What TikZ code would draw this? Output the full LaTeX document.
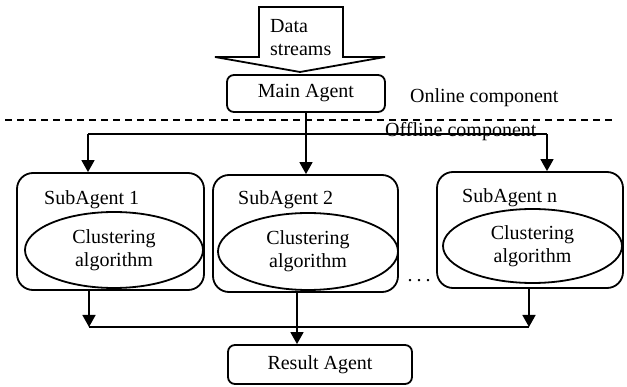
\documentclass[tikz,border=0pt]{standalone}
\usepackage{fontspec}
\setmainfont{Liberation Serif}
\usetikzlibrary{arrows.meta,shapes.geometric}
\begin{document}
\begin{tikzpicture}[x=1pt,y=-1pt,
  every node/.style={font=\fontsize{20}{23}\selectfont, inner sep=0pt},
  agentbox/.style={draw, line width=1.8pt, rounded corners=7pt},
  subbox/.style={draw, line width=1.8pt, rounded corners=16pt},
  algo/.style={draw, ellipse, line width=1.8pt, align=center},
  conn/.style={line width=1.6pt},
  arr/.style={line width=1.6pt, -{Triangle[width=13pt,length=12pt]}},
  lbl/.style={anchor=west}
]
\useasboundingbox (0,0) rectangle (627,387);
% big input arrow
\draw[line width=1.8pt, fill=white] (259,7) -- (343,7) -- (343,57) -- (385,57) -- (300,72) -- (215,57) -- (259,57) -- cycle;
\node[lbl, align=left] (data) at (270,38) {Data\\ streams};
% main agent
\node[agentbox, minimum width=158pt, minimum height=37pt] (main) at (306,93.5) {Main Agent\hspace{14pt}};
\node[lbl] (online) at (410,98) {Online component};
% dashed separator
\coordinate (d1) at (5,120);
\coordinate (d2) at (612,120);
\draw[line width=1.3pt, dash pattern=on 7pt off 5pt] (d1) -- (d2);
% subagents
\node[subbox, minimum width=187pt, minimum height=117pt] (sub1) at (110.5,231.5) {};
\node[subbox, minimum width=185pt, minimum height=117pt] (sub2) at (305.5,233.5) {};
\node[subbox, minimum width=186pt, minimum height=116pt] (subn) at (530,230) {};
\node[lbl] (s1lbl) at (44,200) {SubAgent 1};
\node[lbl] (s2lbl) at (238,200) {SubAgent 2};
\node[lbl] (snlbl) at (462,198) {SubAgent n};
\node[algo, minimum width=178pt, minimum height=76pt] (e1) at (114,250) {Clustering\\algorithm};
\node[algo, minimum width=180pt, minimum height=77pt] (e2) at (308,251.5) {Clustering\\algorithm};
\node[algo, minimum width=179pt, minimum height=74pt] (en) at (532.5,246) {Clustering\\algorithm};
\node (dots) at (419,281) {.\hspace{4pt}.\hspace{4pt}.};
% top distribution
\coordinate (t1) at (88,134);
\coordinate (t2) at (547,134);
\draw[conn] (t1) -- (t2);
\draw[arr] (t1) -- (t1 |- sub1.north);
\draw[arr] (t2) -- (t2 |- subn.north);
\draw[arr] (main.south) -- (main.south |- sub2.north);
\node[lbl] (offline) at (385,132) {Offline component};
% result agent
\node[agentbox, minimum width=184pt, minimum height=39pt] (result) at (320,364.5) {Result Agent};
\coordinate (b1) at (89,327);
\coordinate (b2) at (529,327);
\coordinate (c2) at (297,327);
\draw[conn] (b1) -- (b2);
\draw[arr] (b1 |- sub1.south) -- (b1);
\draw[arr] (b2 |- subn.south) -- (b2);
\draw[arr] (c2 |- sub2.south) -- (c2 |- result.north);
\end{tikzpicture}
\end{document}
